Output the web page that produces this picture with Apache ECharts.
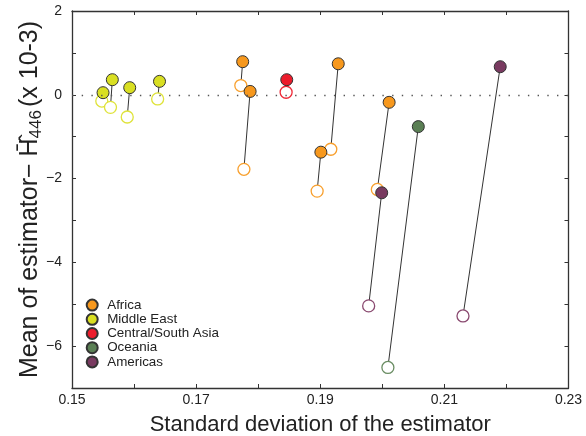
<!DOCTYPE html>
<html>
<head>
<meta charset="utf-8">
<script src="https://cdn.jsdelivr.net/npm/echarts@6.0.0/dist/echarts.min.js"></script>
<style>
  html, body { margin: 0; padding: 0; background: #fff; }
  #chart { width: 586px; height: 436px; }
</style>
</head>
<body>
<div id="chart"></div>
<script>
// Regions shown in the legend
const regions = ['Africa', 'Middle East', 'Central/South Asia', 'Oceania', 'Americas'];

// [standard deviation, mean bias (x 10^-3)] for the two estimators, per population
const africaFilled = [[0.1775, 0.79], [0.1787, 0.08], [0.1929, 0.74], [0.1901, -1.37], [0.2011, -0.18]];
const africaOpen   = [[0.1772, 0.22], [0.1777, -1.78], [0.1917, -1.30], [0.1895, -2.30], [0.1992, -2.26]];

const middleEastFilled = [[0.1550, 0.05], [0.1565, 0.36], [0.1593, 0.17], [0.1641, 0.32]];
const middleEastOpen   = [[0.1548, -0.15], [0.1562, -0.30], [0.1589, -0.53], [0.1638, -0.10]];

const centralSouthAsiaFilled = [[0.1846, 0.36]];
const centralSouthAsiaOpen   = [[0.1845, 0.06]];

const oceaniaFilled = [[0.2058, -0.76]];
const oceaniaOpen   = [[0.2009, -6.51]];

const americasFilled = [[0.1999, -2.34], [0.2190, 0.67]];
const americasOpen   = [[0.1978, -5.04], [0.2130, -5.28]];

// Axis tick labels
const xTickLabels = ['0.15', '0.17', '0.19', '0.21', '0.23'];
const yTickLabels = ['\u22126', '\u22124', '\u22122', '0', '2'];

const filledSets = [africaFilled, middleEastFilled, centralSouthAsiaFilled, oceaniaFilled, americasFilled];
const openSets = [africaOpen, middleEastOpen, centralSouthAsiaOpen, oceaniaOpen, americasOpen];

const fillColors = ['#f7981d', '#d9df22', '#ec1c2c', '#5a7f54', '#793a60'];
const ringColors = ['#f8a02e', '#dfe33a', '#ee2a38', '#6a8d63', '#8a4a70'];

const font = 'Liberation Sans, Arial, sans-serif';
const axisColor = '#333';

// Segments joining the two estimates for each population
const segments = [];
filledSets.forEach((set, r) => {
  set.forEach((p, i) => segments.push({ coords: [p, openSets[r][i]] }));
});

const series = [{
  type: 'lines',
  coordinateSystem: 'cartesian2d',
  z: 1,
  silent: true,
  data: segments,
  lineStyle: { color: '#333', width: 1, opacity: 1 },
  markLine: {
    silent: true,
    symbol: 'none',
    label: { show: false },
    lineStyle: { color: '#555', width: 1.4, type: [1.4, 8.3], cap: 'butt' },
    data: [{ yAxis: 0 }]
  }
}];

openSets.forEach((set, r) => {
  series.push({
    type: 'scatter',
    name: regions[r] + ' ',
    z: 2,
    symbol: 'circle',
    symbolSize: 12,
    data: set,
    itemStyle: { color: '#fff', borderColor: ringColors[r], borderWidth: 1.3, opacity: 1 }
  });
});

filledSets.forEach((set, r) => {
  series.push({
    type: 'scatter',
    name: regions[r],
    z: 3,
    symbol: 'circle',
    symbolSize: 12,
    data: set,
    itemStyle: { color: fillColors[r], borderColor: '#333', borderWidth: 1, opacity: 1 }
  });
});

function evenLabel(labels, min, step) {
  return function (value) {
    const idx = Math.round((value - min) / step);
    return idx % 2 === 0 ? labels[idx / 2] : '';
  };
}

const boxAxis = {
  axisLine: { show: true, onZero: false, lineStyle: { color: axisColor, width: 1.3 } },
  axisTick: { show: true, inside: true, length: 4, lineStyle: { color: axisColor, width: 1 } },
  splitLine: { show: false }
};

const option = {
  animation: false,
  backgroundColor: '#fff',
  grid: { left: 72, right: 17.5, top: 11, bottom: 48, containLabel: false, outerBoundsMode: 'none' },
  legend: {
    data: regions,
    orient: 'vertical',
    left: 80.7,
    top: 293,
    icon: 'circle',
    itemWidth: 20,
    itemHeight: 11,
    itemGap: 0,
    selectedMode: false,
    textStyle: { fontFamily: font, fontSize: 13.4, color: '#222', lineHeight: 14.2 }
  },
  xAxis: [
    Object.assign({
      type: 'value', position: 'bottom', min: 0.15, max: 0.23, interval: 0.01,
      name: 'Standard deviation of the estimator',
      nameLocation: 'middle', nameGap: 26, nameMoveOverlap: false,
      nameTextStyle: { fontFamily: font, fontSize: 22, color: '#222' },
      axisLabel: { show: true, margin: 5, fontFamily: font, fontSize: 14, color: '#222',
        formatter: evenLabel(xTickLabels, 0.15, 0.01) }
    }, boxAxis),
    Object.assign({
      type: 'value', position: 'top', min: 0.15, max: 0.23, interval: 0.01,
      axisLabel: { show: false }
    }, boxAxis)
  ],
  yAxis: [
    Object.assign({
      type: 'value', position: 'left', min: -7, max: 2, interval: 1,
      name: '{t|Mean of estimator\u2212 }{h|H\u0304\u0302}{s|446}{t|(x 10-3)}',
      nameLocation: 'middle', nameRotate: 90, nameGap: 29, nameMoveOverlap: false,
      nameTextStyle: {
        fontFamily: font, fontSize: 25, color: '#222',
        rich: {
          t: { fontFamily: font, fontSize: 25, color: '#222', lineHeight: 25, verticalAlign: 'top' },
          h: { fontFamily: font, fontSize: 25, color: '#222', lineHeight: 25, verticalAlign: 'top' },
          s: { fontFamily: font, fontSize: 17, color: '#222', lineHeight: 17, verticalAlign: 'top', padding: [10, 3, 0, 0] }
        }
      },
      axisLabel: { show: true, margin: 10, fontFamily: font, fontSize: 14, color: '#222',
        formatter: evenLabel(yTickLabels, -6, 1) }
    }, boxAxis),
    Object.assign({
      type: 'value', position: 'right', min: -7, max: 2, interval: 1,
      axisLabel: { show: false }
    }, boxAxis)
  ],
  series: series
};

const chart = echarts.init(document.getElementById('chart'), null, { renderer: 'canvas' });
chart.setOption(option);
</script>
</body>
</html>
